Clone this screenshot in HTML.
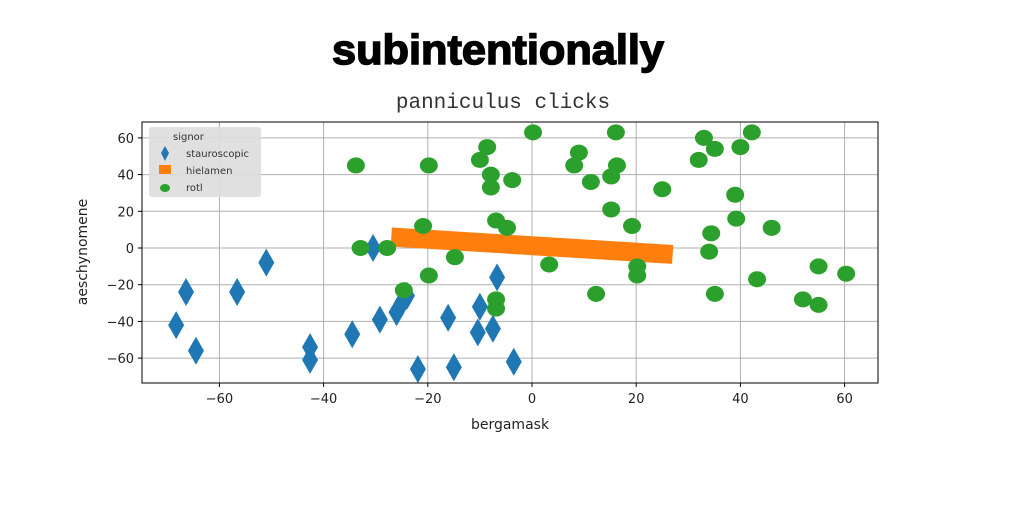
<!DOCTYPE html>
<html><head><meta charset="utf-8"><style>
body{margin:0;background:#fff;width:1024px;height:512px;overflow:hidden;font-family:"DejaVu Sans","Liberation Sans",sans-serif}
</style></head><body>
<svg width="1024" height="512" xmlns="http://www.w3.org/2000/svg">
<text x="498" y="64" text-anchor="middle" font-family="Liberation Sans,sans-serif" font-weight="bold" font-size="42" textLength="332" lengthAdjust="spacingAndGlyphs" stroke="#000" stroke-width="1.5">subintentionally</text>
<text x="503" y="108" text-anchor="middle" font-family="Liberation Mono,monospace" font-size="21" fill="#333">panniculus clicks</text>
<g id="grid"></g>
<g id="marks"></g>
<rect x="142" y="122" width="736" height="261" fill="none" stroke="#000" stroke-width="1"/>
<g id="ticks" font-size="13" fill="#222"></g>
<text x="510" y="429" text-anchor="middle" font-size="14" fill="#222">bergamask</text>
<text transform="translate(87,252) rotate(-90)" text-anchor="middle" font-size="14" fill="#222">aeschynomene</text>
<g>
<rect x="149" y="127" width="112" height="70" rx="3" fill="#ddd" opacity="0.9"/>
<text x="173" y="140" font-size="10" fill="#333">signor</text>
<path d="M165,146 L169,153 L165,161 L161,153 Z" fill="#1f77b4"/>
<text x="186" y="157" font-size="10" fill="#333">stauroscopic</text>
<rect x="159" y="165" width="12" height="9" fill="#ff7f0e"/>
<text x="186" y="174" font-size="10" fill="#333">hielamen</text>
<ellipse cx="165" cy="188" rx="5" ry="4" fill="#2ca02c"/>
<text x="186" y="191" font-size="10" fill="#333">rotl</text>
</g>
</svg>
<script>
const xTicks=[-60,-40,-20,0,20,40,60];
const yTicks=[-60,-40,-20,0,20,40,60];
const blueX=[-68.3,-66.4,-64.5,-56.6,-51,-42.6,-42.6,-34.5,-30.5,-29.2,-26,-25,-24,-21.9,-16.1,-15,-10.4,-10,-7.5,-6.7,-3.5];
const blueY=[-42,-24,-56,-24,-8,-54,-61,-47,0,-39,-35,-30,-26,-66,-38,-65,-46,-32,-44,-16,-62];
const greenX=[-33.8,-32.9,-27.8,-24.6,-20.9,-19.8,-19.8,-14.8,-10,-8.6,-7.9,-7.9,-6.9,-6.9,-6.9,-4.8,-3.8,0.2,3.3,8.1,9,11.3,12.3,15.2,15.2,16.1,16.3,19.2,20.2,20.2,25,32,33,34,34.4,35.1,35.1,39,39.2,40,42.2,43.2,46,52,55,55,60.3];
const greenY=[45,0,0,-23,12,45,-15,-5,48,55,40,33,15,-28,-33,11,37,63,-9,45,52,36,-25,21,39,63,45,12,-10,-15,32,48,60,-2,8,54,-25,29,16,55,63,-17,11,-28,-31,-10,-14];
const lineX=[-27,27];
const lineY=[6,-3.5];
const sx=v=>532+v*5.21, sy=v=>248-v*1.835;
const NS="http://www.w3.org/2000/svg";
function mk(t,a,p){const e=document.createElementNS(NS,t);for(const k in a)e.setAttribute(k,a[k]);document.getElementById(p).appendChild(e);return e;}
xTicks.forEach(t=>{
const l=mk('line',{x1:sx(t),x2:sx(t),y1:122,y2:383,stroke:'#b0b0b0','stroke-width':1},'grid');


mk('line',{x1:sx(t),x2:sx(t),y1:383,y2:387,stroke:'#000'},'ticks');
const tx=mk('text',{x:sx(t),y:403,'text-anchor':'middle'},'ticks');tx.textContent=(t<0?'\u2212'+(-t):t);


});
yTicks.forEach(t=>{
const l=mk('line',{x1:142,x2:878,y1:sy(t),y2:sy(t),stroke:'#b0b0b0','stroke-width':1},'grid');


mk('line',{x1:138,x2:142,y1:sy(t),y2:sy(t),stroke:'#000'},'ticks');
const tx=mk('text',{x:134,y:sy(t)+5,'text-anchor':'end'},'ticks');tx.textContent=(t<0?'\u2212'+(-t):t);


});
blueX.forEach((x,i)=>{const cx=sx(x),cy=sy(blueY[i]);
const d=mk('path',{d:`M${cx},${cy-14} L${cx+8},${cy} L${cx},${cy+14} L${cx-8},${cy} Z`,fill:'#1f77b4'},'marks');

});
const ln=mk('line',{x1:sx(lineX[0]),y1:sy(lineY[0]),x2:sx(lineX[1]),y2:sy(lineY[1]),stroke:'#ff7f0e','stroke-width':19},'marks');


greenX.forEach((x,i)=>{
const c=mk('ellipse',{cx:sx(x),cy:sy(greenY[i]),rx:9,ry:8,fill:'#2ca02c'},'marks');

});
</script>
</body></html>
